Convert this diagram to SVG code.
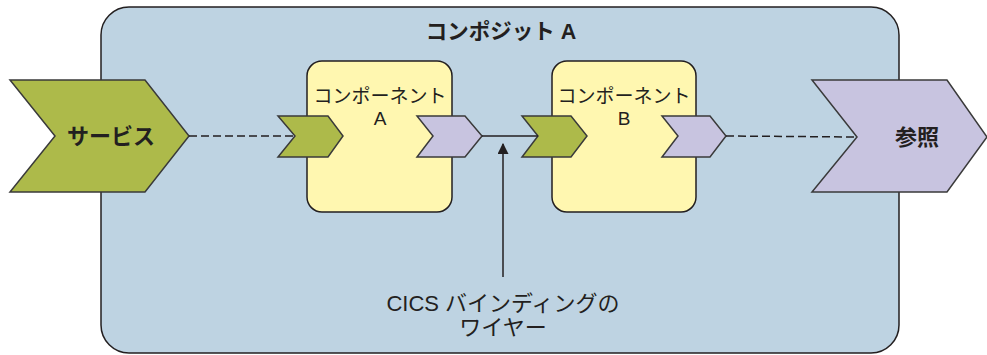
<svg xmlns="http://www.w3.org/2000/svg" width="987" height="355" viewBox="0 0 987 355">
<style>
text{font-family:"Liberation Sans","Noto Sans CJK JP",sans-serif;fill:#231f20;text-anchor:middle}
.b{font-weight:bold}
.sh{stroke:#3a3a3a;stroke-width:1.5;stroke-linejoin:miter}
.g{fill:#adba4a}
.p{fill:#c8c4e0}
.comp{fill:#fff7b0;stroke:#231f20;stroke-width:1.5}
.ln{stroke:#231f20;stroke-width:1.5;fill:none}
.d{stroke-dasharray:8,4}
.ct{font-size:19px}
</style>
<defs>
<marker id="ah" viewBox="0 0 10 10" refX="9" refY="5" markerWidth="11" markerHeight="11" markerUnits="userSpaceOnUse" orient="auto">
<path d="M0,0 L10,5 L0,10 z" fill="#231f20"/>
</marker>
</defs>
<g id="composite">
<rect x="101" y="7" width="798" height="346" rx="28" fill="#bed3e2" stroke="#231f20" stroke-width="1.5"/>
<text class="b" x="501" y="39" font-size="21.5">コンポジット A</text>
</g>
<g id="service">
<polygon class="sh g" points="10,80 145,80 189,136 145,192 10,192 55,136"/>
<text class="b" x="111" y="144" font-size="22">サービス</text>
</g>
<g id="reference">
<polygon class="sh p" points="812,80 947,80 987,137 947,192 812,192 857,137"/>
<text class="b" x="917" y="145" font-size="22">参照</text>
</g>
<g id="componentA">
<rect class="comp" x="307" y="61" width="145" height="151" rx="15"/>
<text class="ct" x="380" y="103">コンポーネント</text>
<text class="ct" x="380" y="125">A</text>
<polygon class="sh g" points="278,116 328,116 343,136 328,157 278,157 295,136"/>
<polygon class="sh p" points="417,116 465,116 482,136 465,157 417,157 433,136"/>
</g>
<g id="componentB">
<rect class="comp" x="552" y="61" width="144" height="151" rx="15"/>
<text class="ct" x="624" y="103">コンポーネント</text>
<text class="ct" x="624" y="125">B</text>
<polygon class="sh g" points="522,116 571,116 587,136 571,157 522,157 538,136"/>
<polygon class="sh p" points="662,116 710,116 726,136 710,157 662,157 678,136"/>
</g>
<g id="connectors">
<line class="ln d" x1="189" y1="136" x2="295" y2="136"/>
<line class="ln" x1="482" y1="136" x2="538" y2="136"/>
<line class="ln d" x1="726" y1="136" x2="857" y2="137"/>
<line class="ln" x1="503" y1="277" x2="503" y2="144" marker-end="url(#ah)"/>
</g>
<g id="label">
<text x="503" y="311" font-size="22">CICS バインディングの</text>
<text x="503" y="335" font-size="22">ワイヤー</text>
</g>
</svg>
